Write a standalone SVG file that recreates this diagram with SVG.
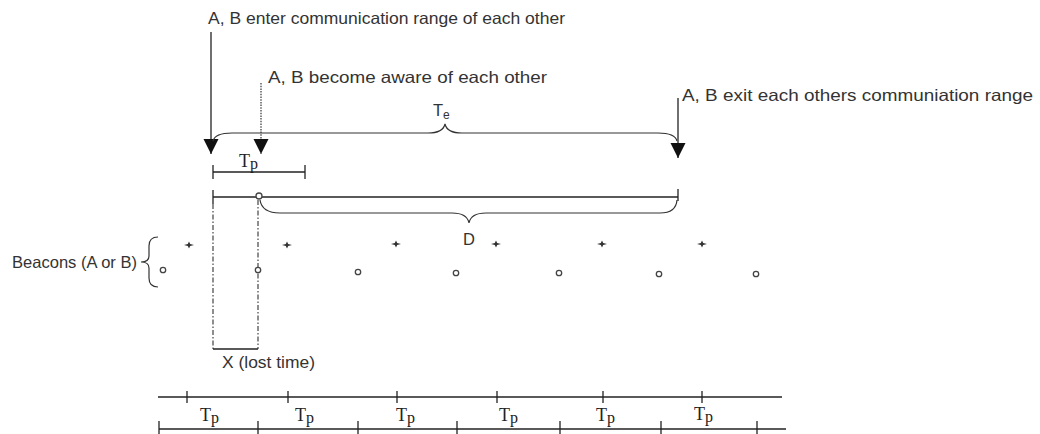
<svg xmlns="http://www.w3.org/2000/svg" width="1040" height="434" viewBox="0 0 1040 434">
<style>
.lbl{font-family:"Liberation Sans",Arial,sans-serif;fill:#333;font-size:16.5px}
.tp{font-family:"Liberation Serif","Times New Roman",serif;fill:#222;font-size:18px}
.ln{stroke:#222;stroke-width:1.3;fill:none}
.br{stroke:#333;stroke-width:1.2;fill:none}
.dd{stroke:#444;stroke-width:1.2;fill:none;stroke-dasharray:5 2 1.5 2}
.dot{stroke:#333;stroke-width:1.2;fill:none;stroke-dasharray:1.5 1.2}
.ring{stroke:#444;stroke-width:1.3;fill:#fff}
.star{fill:#333}
</style>
<defs>
<marker id="ah" markerUnits="userSpaceOnUse" markerWidth="16" markerHeight="16" refX="15" refY="7.5" orient="auto">
<path d="M0,0 L15,7.5 L0,15 Z" fill="#111"/>
</marker>
<path id="pl" d="M-5,0 L-1.2,-1.1 L0,-3.5 L1.2,-1.1 L5,0 L1.2,1.1 L0,3.5 L-1.2,1.1 Z"/>
</defs>

<g id="connectors">
<line class="ln" x1="211" y1="32" x2="211" y2="154" marker-end="url(#ah)"/>
<line class="dot" x1="261" y1="83" x2="261" y2="154" marker-end="url(#ah)"/>
<line class="ln" x1="678" y1="98" x2="678" y2="158" marker-end="url(#ah)"/>
</g>

<g id="label-enter">
<text class="lbl" x="208" y="24" textLength="357" lengthAdjust="spacingAndGlyphs">A, B enter communication range of each other</text>
</g>
<g id="label-aware">
<text class="lbl" x="268" y="83" textLength="279" lengthAdjust="spacingAndGlyphs">A, B become aware of each other</text>
</g>
<g id="label-exit">
<text class="lbl" x="682" y="101" textLength="351" lengthAdjust="spacingAndGlyphs">A, B exit each others communiation range</text>
</g>

<g id="brace-Te">
<path class="br" d="M213,141 Q215,133 232,133 L428,133 Q443,133 445,124 Q447,133 462,133 L658,133 Q675,133 677,141"/>
<text class="lbl" x="433" y="116" font-size="18">T<tspan font-size="12" dy="3">e</tspan></text>
</g>

<g id="segment-Tp">
<line class="ln" x1="213" y1="172" x2="305" y2="172"/>
<line class="ln" x1="213" y1="165" x2="213" y2="179"/>
<line class="ln" x1="305" y1="165" x2="305" y2="179"/>
<text class="tp" x="239" y="167">T<tspan font-size="16" dy="2">p</tspan></text>
</g>

<g id="segment-D">
<line class="ln" x1="213" y1="197" x2="678" y2="197"/>
<line class="ln" x1="213" y1="190" x2="213" y2="204"/>
<line class="ln" x1="678" y1="189" x2="678" y2="201"/>
<path class="br" d="M260,200 Q262,213 280,213 L452,213 Q467,213 469,223 Q471,213 486,213 L660,213 Q676,213 677,200"/>
<text class="lbl" x="463" y="245" font-size="16">D</text>
</g>

<g id="lost-time">
<line class="dd" x1="213" y1="204" x2="213" y2="349"/>
<line class="dd" x1="258" y1="200" x2="258" y2="349"/>
<line class="ln" x1="213" y1="349" x2="258" y2="349"/>
<text class="lbl" x="222" y="368" font-size="14.5" textLength="93" lengthAdjust="spacingAndGlyphs">X (lost time)</text>
</g>

<g id="beacons">
<text class="lbl" x="12" y="268" font-size="14.5" textLength="125" lengthAdjust="spacingAndGlyphs">Beacons (A or B)</text>
<path class="br" d="M158,237 Q149,237 149,246 L149,256 Q149,262 141,262 Q149,262 149,268 L149,278 Q149,287 158,287"/>
<use href="#pl" class="star" x="189" y="245"/>
<use href="#pl" class="star" x="287" y="245"/>
<use href="#pl" class="star" x="396" y="244"/>
<use href="#pl" class="star" x="496" y="244"/>
<use href="#pl" class="star" x="602" y="244"/>
<use href="#pl" class="star" x="702" y="244"/>
<circle class="ring" cx="163" cy="270" r="2.7"/>
<circle class="ring" cx="258" cy="270" r="2.7"/>
<circle class="ring" cx="358" cy="272" r="2.7"/>
<circle class="ring" cx="456" cy="273" r="2.7"/>
<circle class="ring" cx="559" cy="273" r="2.7"/>
<circle class="ring" cx="659" cy="274" r="2.7"/>
<circle class="ring" cx="756" cy="274" r="2.7"/>
<circle class="ring" cx="259" cy="196" r="3"/>
</g>

<g id="timeline-upper">
<line class="ln" x1="158" y1="397" x2="782" y2="397"/>
<line class="ln" x1="187" y1="391" x2="187" y2="403"/>
<line class="ln" x1="288" y1="391" x2="288" y2="403"/>
<line class="ln" x1="397" y1="391" x2="397" y2="403"/>
<line class="ln" x1="497" y1="391" x2="497" y2="403"/>
<line class="ln" x1="603" y1="391" x2="603" y2="403"/>
<line class="ln" x1="702" y1="391" x2="702" y2="403"/>
</g>

<g id="timeline-lower">
<line class="ln" x1="159" y1="429" x2="786" y2="429"/>
<line class="ln" x1="159" y1="421" x2="159" y2="434"/>
<line class="ln" x1="258" y1="421" x2="258" y2="434"/>
<line class="ln" x1="358" y1="421" x2="358" y2="434"/>
<line class="ln" x1="457" y1="421" x2="457" y2="434"/>
<line class="ln" x1="560" y1="421" x2="560" y2="434"/>
<line class="ln" x1="661" y1="421" x2="661" y2="434"/>
<line class="ln" x1="757" y1="421" x2="757" y2="434"/>
</g>

<g id="tp-labels">
<text class="tp" x="200" y="421">T<tspan font-size="16" dy="2">p</tspan></text>
<text class="tp" x="295" y="421">T<tspan font-size="16" dy="2">p</tspan></text>
<text class="tp" x="396" y="421">T<tspan font-size="16" dy="2">p</tspan></text>
<text class="tp" x="499" y="421">T<tspan font-size="16" dy="2">p</tspan></text>
<text class="tp" x="596" y="421">T<tspan font-size="16" dy="2">p</tspan></text>
<text class="tp" x="694" y="420">T<tspan font-size="16" dy="2">p</tspan></text>
</g>
</svg>
